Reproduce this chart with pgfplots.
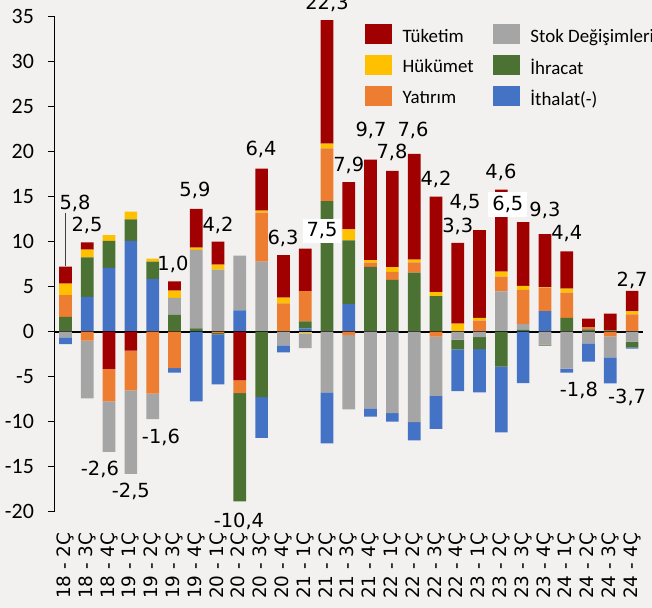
\documentclass[border=0pt]{standalone}
\usepackage{pgfplots}
\pgfplotsset{compat=1.18}
\usepackage{pgfplotstable}
\usepackage{fontspec}
\setmainfont{Carlito}
\newfontfamily\dejavu{DejaVu Sans}
\definecolor{tuk}{RGB}{160,0,0}
\definecolor{huk}{RGB}{255,192,0}
\definecolor{yat}{RGB}{237,125,49}
\definecolor{stok}{RGB}{165,165,165}
\definecolor{ihr}{RGB}{75,114,50}
\definecolor{ith}{RGB}{68,114,196}
\definecolor{bg}{RGB}{242,241,240}

\pgfplotstableread{
x ith ihr stok yat huk tuk
0 -0.74 1.66 -0.63 2.40 1.29 1.88
1 3.88 4.39 -6.42 -1.00 0.85 0.81
2 7.09 2.99 -5.60 -3.62 0.66 -4.13
3 10.08 2.40 -9.27 -4.43 0.85 -2.10
4 5.83 1.96 -2.84 -6.87 0.33 0
5 -0.48 1.88 1.88 -4.06 0.81 1.03
6 -7.75 0.37 8.71 0 0.26 4.32
7 -5.54 -0.15 6.90 -0.15 0.55 2.55
8 2.36 -12.03 6.09 -1.44 0 -5.39
9 -4.54 -7.27 7.79 5.43 0.22 4.69
10 -0.78 0 -1.51 3.14 0.66 4.72
11 0.37 0.78 -1.62 3.36 -0.20 4.72
12 -5.65 14.50 -6.75 5.87 0.52 13.73
13 3.06 7.09 -8.27 -0.37 1.22 5.24
14 -0.92 7.20 -8.53 0.48 0.26 11.18
15 -0.96 5.76 -9.04 0.89 0.52 10.70
16 -2.03 6.57 -10.04 1.14 0.30 11.74
17 -3.69 3.95 -6.57 -0.55 0.44 10.63
18 -4.65 -1.07 -0.89 0 0.89 8.97
19 -4.80 -1.33 -0.60 1.22 0.33 9.75
20 -7.30 -3.88 4.47 1.66 0.55 9.12
21 -5.72 0.22 0.66 3.77 0.44 7.09
22 2.30 -0.10 -1.45 2.60 0.05 5.90
23 -0.44 1.55 -4.10 2.80 0.44 4.13
24 -2.03 0.26 -1.29 0.26 0 0.92
25 -2.88 0.15 -2.33 -0.52 0 1.85
26 -0.15 -0.63 -1.11 1.92 0.33 2.29
}\data

\tikzset{
  lbl/.style={font=\dejavu\fontsize{19.5}{22}\selectfont, inner sep=0pt, anchor=center},
  wbox/.style={lbl, fill=white, inner xsep=4bp, inner ysep=4bp},
}
\pgfplotsset{
  common/.style={
    at={(0,0)}, anchor=south west, scale only axis,
    width=588.4bp, height=495bp,
    xmin=-0.5, xmax=26.5, ymin=-20, ymax=35,
    ybar stacked, bar width=12.7bp,
    clip=false,
  },
  pos/.style={fill=#1, draw=none},
}

\begin{document}
\begin{tikzpicture}
\fill[bg] (-54.6bp,-96.3bp) rectangle (597.4bp,511.7bp);
% positive stack
\begin{axis}[common,
  axis x line*=bottom, axis y line*=left,
  x axis line style={draw=none},
  xtick style={draw=none},
  y axis line style={black, line width=1.3bp},
  ytick style={black, line width=1.3bp},
  tick align=outside, major tick length=6.5bp,
  ytick={-20,-15,...,35},
  /pgf/number format/assume math mode=true,
  yticklabel style={font=\fontsize{22}{24}\selectfont, anchor=east, inner xsep=0pt, xshift=-14bp},
  xtick={0,...,26},
  xticklabels={18 - 2Ç,18 - 3Ç,18 - 4Ç,19 - 1Ç,19 - 2Ç,19 - 3Ç,19 - 4Ç,20 - 1Ç,20 - 2Ç,20 - 3Ç,20 - 4Ç,21 - 1Ç,21 - 2Ç,21 - 3Ç,21 - 4Ç,22 - 1Ç,22 - 2Ç,22 - 3Ç,22 - 4Ç,23 - 1Ç,23 - 2Ç,23 - 3Ç,23 - 4Ç,24 - 1Ç,24 - 2Ç,24 - 3Ç,24 - 4Ç},
  xticklabel style={font=\dejavu\fontsize{18.5}{20}\selectfont, rotate=90, anchor=east, inner xsep=14bp, inner ysep=0pt},
]
\addplot[pos=ith] table[x=x, y expr={max(\thisrow{ith},0)}] {\data};
\addplot[pos=ihr] table[x=x, y expr={max(\thisrow{ihr},0)}] {\data};
\addplot[pos=stok] table[x=x, y expr={max(\thisrow{stok},0)}] {\data};
\addplot[pos=yat] table[x=x, y expr={max(\thisrow{yat},0)}] {\data};
\addplot[pos=huk] table[x=x, y expr={max(\thisrow{huk},0)}] {\data};
\addplot[pos=tuk] table[x=x, y expr={max(\thisrow{tuk},0)}] {\data};
\end{axis}
% negative stack + legend + labels
\begin{axis}[common, hide axis,
  legend columns=3, transpose legend,
  legend cell align=left,
  legend image code/.code={\fill[#1] (0bp,-7.5bp) rectangle (27bp,12.5bp);},
  legend style={at={(rel axis cs:0.5275,0.9845)}, anchor=north west, draw=none, fill=none,
    inner sep=0pt, outer sep=0pt, font=\fontsize{19}{21}\selectfont, row sep=10.3bp,
    nodes={inner sep=0pt},
    /tikz/every odd column/.style={column sep=10.7bp},
    /tikz/every even column/.style={column sep=19bp}},
]
\addplot[pos=tuk] table[x=x, y expr={min(\thisrow{tuk},0)}] {\data};
\addplot[pos=huk] table[x=x, y expr={min(\thisrow{huk},0)}] {\data};
\addplot[pos=yat] table[x=x, y expr={min(\thisrow{yat},0)}] {\data};
\addplot[pos=stok] table[x=x, y expr={min(\thisrow{stok},0)}] {\data};
\addplot[pos=ihr] table[x=x, y expr={min(\thisrow{ihr},0)}] {\data};
\addplot[pos=ith] table[x=x, y expr={min(\thisrow{ith},0)}] {\data};
\legend{Tüketim,Hükümet,Yatırım,Stok Değişimleri,İhracat,İthalat(-)}
\draw[black, line width=1.8bp] (axis cs:-0.5,0) -- (axis cs:26.5,0);
\draw[black!75, line width=0.8bp] (axis cs:-0.02,13.15) -- (axis cs:-0.02,7.27);
\node[lbl] at (axis cs:0.44,14.3) {5,8};
\node[lbl] at (axis cs:0.99,11.85) {2,5};
\node[lbl] at (axis cs:1.58,-15.25) {-2,6};
\node[lbl] at (axis cs:3.0,-17.8) {-2,5};
\node[lbl] at (axis cs:4.38,-11.7) {-1,6};
\node[lbl] at (axis cs:4.93,7.5) {1,0};
\node[lbl] at (axis cs:5.94,15.75) {5,9};
\node[lbl] at (axis cs:7.0,11.85) {4,2};
\node[lbl] at (axis cs:7.96,-21.1) {-10,4};
\node[lbl] at (axis cs:8.97,20.2) {6,4};
\node[lbl] at (axis cs:9.98,10.4) {6,3};
\node[wbox] at (axis cs:11.77,11.2) {7,5};
\node[lbl] at (axis cs:12.0,36.5) {22,3};
\node[lbl] at (axis cs:13.0,18.5) {7,9};
\node[lbl] at (axis cs:14.02,22.4) {9,7};
\node[lbl] at (axis cs:14.98,19.9) {7,8};
\node[lbl] at (axis cs:15.95,22.4) {7,6};
\node[lbl] at (axis cs:17.0,16.9) {4,2};
\node[lbl] at (axis cs:18.0,11.75) {3,3};
\node[lbl] at (axis cs:18.33,14.4) {4,5};
\node[lbl] at (axis cs:19.98,17.75) {4,6};
\node[wbox] at (axis cs:20.3,14.1) {6,5};
\node[lbl] at (axis cs:22.0,13.5) {9,3};
\node[lbl] at (axis cs:23.0,10.95) {4,4};
\node[lbl] at (axis cs:23.56,-6.5) {-1,8};
\node[lbl] at (axis cs:25.77,-7.25) {-3,7};
\node[lbl] at (axis cs:26.0,5.75) {2,7};
\end{axis}
\pgfresetboundingbox
\path[use as bounding box] (-54.6bp,-96.3bp) rectangle (597.4bp,511.7bp);
\end{tikzpicture}
\end{document}
